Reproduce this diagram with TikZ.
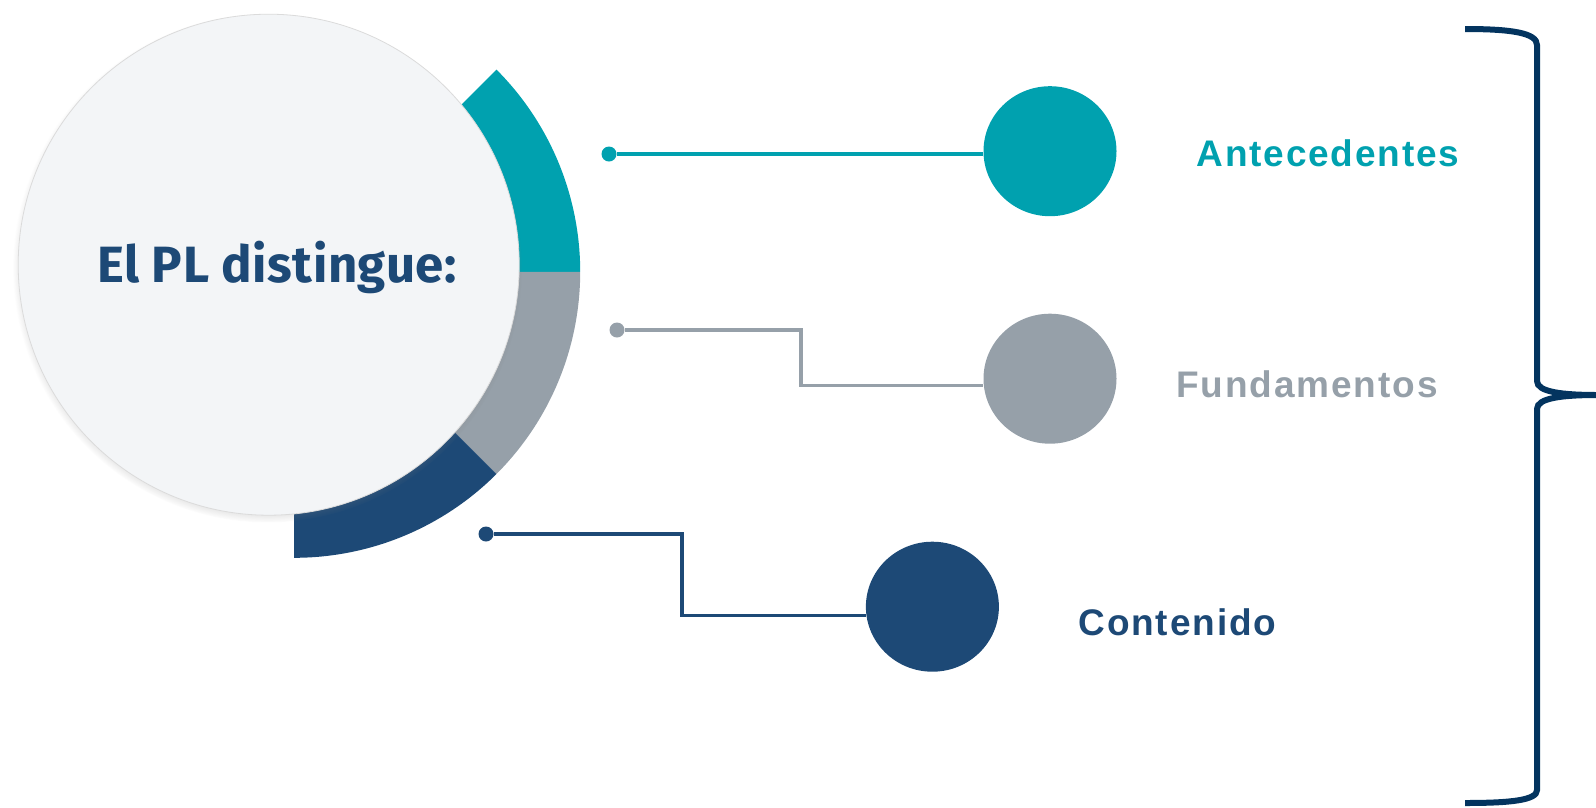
\documentclass[tikz,border=0pt]{standalone}
\usepackage{fontspec}
\setmainfont{Liberation Sans}
\newfontfamily\titlefont[LetterSpace=1]{Fira Sans}
\newfontfamily\labelfont[LetterSpace=5]{Liberation Sans}
\usetikzlibrary{shapes.geometric, shadows, calc}

\definecolor{plteal}{HTML}{00A1AF}
\definecolor{plgray}{HTML}{96A0A9}
\definecolor{plnavy}{HTML}{1D4976}
\definecolor{plbrace}{HTML}{03345F}
\definecolor{plpaper}{HTML}{F3F5F7}

\begin{document}
\begin{tikzpicture}[x=1pt, y=-1pt,
    hub/.style={circle, minimum size=501pt, inner sep=0pt, fill=plpaper, draw=black!14, line width=0.8pt,
        circular drop shadow={shadow xshift=-1pt, shadow yshift=-3pt, shadow scale=1.016, opacity=.8}},
    satellite/.style={ellipse, minimum width=133pt, minimum height=130pt, inner sep=0pt},
    pin/.style={circle, minimum size=15pt, inner sep=0pt},
    link/.style={line width=3.2pt},
    tag/.style={anchor=base west, font=\labelfont\bfseries\fontsize{37}{40}\selectfont}]

    \useasboundingbox (0,0) rectangle (1596,807);

    % Ring behind the main circle
    \coordinate (ringc) at (294.2,271.8);
    \foreach \a/\b/\col in {0/-45/plteal, 0/45/plgray, 45/90/plnavy} {
        \fill[\col] (ringc) -- ($(ringc)+(\a:286)$) arc[start angle=\a, end angle=\b, radius=286] -- cycle;
    }

    % Main circle
    \node[hub] (hub) at (268.7,264.7) {};
    \node[anchor=base, text=plnavy, font=\titlefont\bfseries\fontsize{51}{54}\selectfont] (hubtext) at (277,282.7) {El PL distingue:};

    % Satellite circles
    \node[satellite, fill=plteal] (antc) at (1050,151.2) {};
    \node[satellite, fill=plgray] (fundc) at (1050,378.7) {};
    \node[satellite, fill=plnavy] (contc) at (932.4,606.7) {};

    % Start pins
    \node[pin, fill=plteal] (pinA) at (609,154) {};
    \node[pin, fill=plgray] (pinB) at (617,330) {};
    \node[pin, fill=plnavy] (pinC) at (486,534) {};

    % Connectors
    \coordinate (kneeB) at (801,385.8);
    \coordinate (kneeC) at (682,615.8);
    \draw[link, plteal] (pinA) -- (pinA -| antc.west);
    \draw[link, plgray] (pinB) -| (kneeB) -- (kneeB -| fundc.west);
    \draw[link, plnavy] (pinC) -| (kneeC) -- (kneeC -| contc.west);

    % Labels
    \node[tag, text=plteal] (antl) at (1193,166.7) {Antecedentes};
    \node[tag, text=plgray] (fundl) at (1173,397.5) {Fundamentos};
    \node[tag, text=plnavy] (contl) at (1075,635.7) {Contenido};

    % Brace on the right
    \draw[plbrace, line width=6pt]
        (1465,29) .. controls (1512,29) and (1537,33) .. (1537,45) -- (1537,381)
        .. controls (1537,392) and (1562,395) .. (1598,395)
        .. controls (1562,395) and (1537,398) .. (1537,409) -- (1537,790)
        .. controls (1537,800) and (1512,803) .. (1465,803);

\end{tikzpicture}
\end{document}
